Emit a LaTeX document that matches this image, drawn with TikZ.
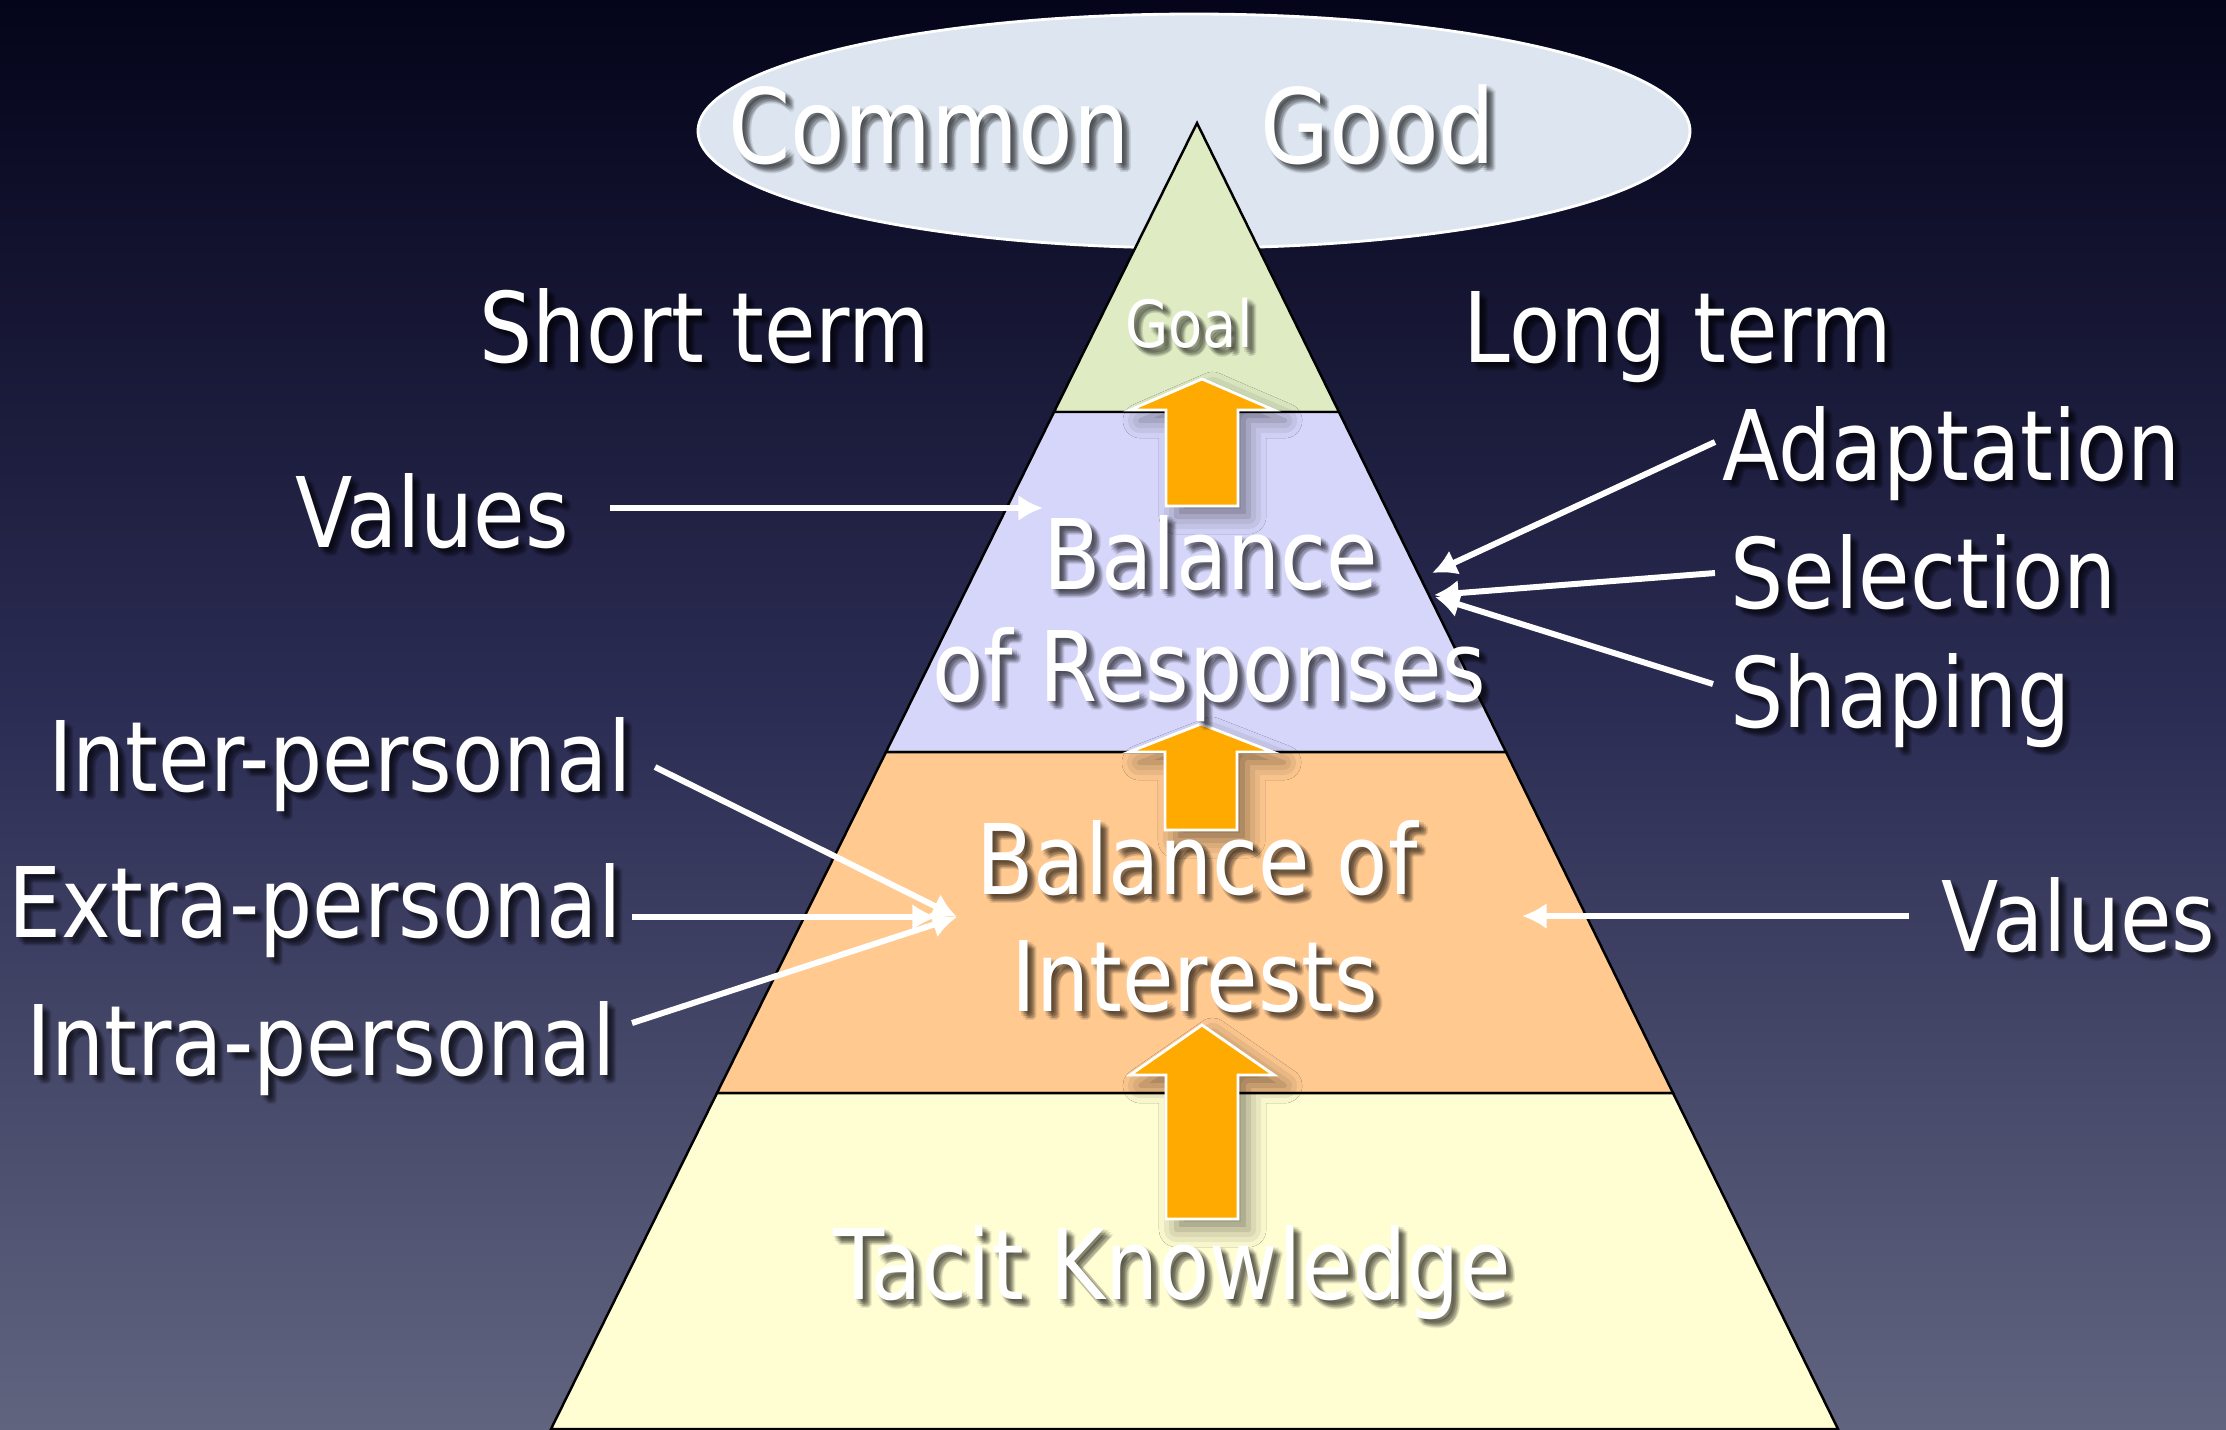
\documentclass[tikz,border=0pt]{standalone}
\usepackage{fontspec}
\setmainfont{DejaVu Sans}[FakeStretch=0.86]
\usetikzlibrary{arrows.meta,shadows.blur}
\definecolor{bgtop}{HTML}{04041A}
\definecolor{bgmid}{HTML}{2C2D54}
\definecolor{bgbot}{HTML}{61647F}
\definecolor{goalc}{HTML}{DEEBC3}
\definecolor{respc}{HTML}{D6D6FB}
\definecolor{intc}{HTML}{FFC990}
\definecolor{tacitc}{HTML}{FFFDD2}
\definecolor{ellc}{HTML}{DCE5F0}
\definecolor{orangec}{HTML}{FFAA00}
\tikzset{
  lbl/.style={text=white,inner sep=0pt,anchor=base,font=\fontsize{27.7}{33}\selectfont},
  lblsh/.style={text=black,text opacity=0.09,inner sep=0pt,anchor=base,font=\fontsize{27.7}{33}\selectfont},
  wline/.style={draw=white,line width=1.7pt,-{Latex[length=7pt,width=7.5pt]}},
  layer/.style={draw=black,line width=0.7pt},
  blockarrow/.style={fill=orangec,draw=white,line width=0.8pt,
    blur shadow={shadow xshift=3pt,shadow yshift=-3pt,shadow opacity=45,shadow blur radius=5pt}}
}
\newcommand\shlabel[4][]{%
  \foreach \dx/\dy in {1/1,3/3,5/5,7/7,5/2,2/5,7/4,4/7,9/6,6/9,8/8}{%
    \node[lblsh,#1,xshift=\dx*0.01cm,yshift=-\dy*0.01cm] at (#3) {#4};}
  \node[lbl,#1] (#2) at (#3) {#4};}
\newcommand\blockarr[4]{%
  \path[blockarrow] (#1,#2) -- (#1+72,#3) -- (#1+36,#3) -- (#1+36,#4)
     -- (#1-36,#4) -- (#1-36,#3) -- (#1-72,#3) -- cycle;}
\begin{document}
\begin{tikzpicture}[x=0.01cm,y=-0.01cm]
\useasboundingbox (0,0) rectangle (2226,1429);
\shade[top color=bgtop,bottom color=bgbot,middle color=bgmid] (0,0) rectangle (2226,1429);
% common good ellipse
\filldraw[fill=ellc,draw=white,line width=0.8pt] (1194,131) ellipse [x radius=496,y radius=117];
% pyramid layers
\path[layer,fill=goalc] (1197,123) -- (1339,412) -- (1054,412) -- cycle;
\path[layer,fill=respc] (1054,412) -- (1339,412) -- (1506,752) -- (886,752) -- cycle;
\path[layer,fill=intc] (886,752) -- (1506,752) -- (1673,1093) -- (717,1093) -- cycle;
\path[layer,fill=tacitc] (717,1093) -- (1673,1093) -- (1838,1429) -- (551,1429) -- cycle;
% orange block arrows
\blockarr{1202}{379}{410}{506}
\blockarr{1201}{724}{752}{830}
\blockarr{1202}{1025}{1075}{1219}
% texts
\shlabel[font=\fontsize{29.5}{35}\selectfont]{common}{929,163}{Common}
\shlabel[font=\fontsize{29.5}{35}\selectfont]{good}{1378,163}{Good}
\shlabel{short}{705,362}{Short term}
\shlabel{long}{1678,362}{Long term}
\shlabel[font=\fontsize{18.5}{22}\selectfont]{goal}{1189,347}{Goal}
\shlabel{valuesL}{432,547}{Values}
\shlabel{bal1}{1211,589}{Balance}
\shlabel{bal2}{1209,701}{of Responses}
\shlabel[anchor=base west]{adapt}{1722,480}{Adaptation}
\shlabel[anchor=base west]{select}{1730,608}{Selection}
\shlabel[anchor=base west]{shape}{1730,727}{Shaping}
\shlabel[anchor=base east]{inter}{632,791}{Inter-personal}
\shlabel[anchor=base east]{extra}{622,937}{Extra-personal}
\shlabel[anchor=base east]{intra}{616,1075}{Intra-personal}
\shlabel{int1}{1197,894}{Balance of}
\shlabel{int2}{1195,1011}{Interests}
\shlabel[anchor=base west]{valuesR}{1941,951}{Values}
\shlabel{tacit}{1172,1299}{Tacit Knowledge}
% connector end points
\coordinate (vlS) at (610,508);   \coordinate (vlE) at (1043,508);
\coordinate (adS) at (1715,442);  \coordinate (adE) at (1432,573);
\coordinate (seS) at (1715,573);  \coordinate (seE) at (1434,595);
\coordinate (shS) at (1713,684);  \coordinate (shE) at (1435,597);
\coordinate (inS) at (655,767);   \coordinate (inE) at (957,917);
\coordinate (exS) at (632,917);   \coordinate (exE) at (937,917);
\coordinate (itS) at (632,1023);  \coordinate (itE) at (957,917);
\coordinate (vrS) at (1909,916);  \coordinate (vrE) at (1522,916);
% white connectors
\draw[wline] (vlS) -- (vlE);
\draw[wline] (adS) -- (adE);
\draw[wline] (seS) -- (seE);
\draw[wline] (shS) -- (shE);
\draw[wline] (inS) -- (inE);
\draw[wline] (exS) -- (exE);
\draw[wline] (itS) -- (itE);
\draw[wline] (vrS) -- (vrE);
\end{tikzpicture}
\end{document}
